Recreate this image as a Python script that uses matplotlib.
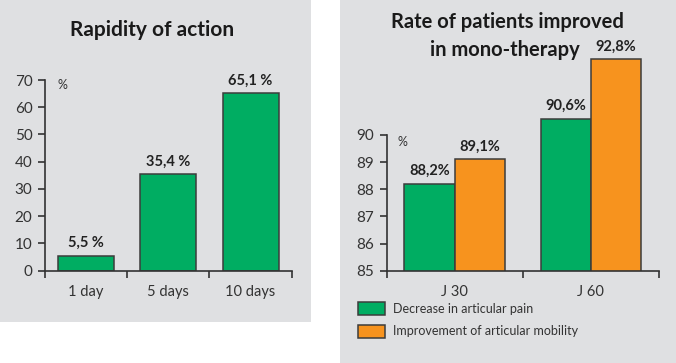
import matplotlib
matplotlib.use("Agg")
import matplotlib.pyplot as plt
from matplotlib.patches import Rectangle, Patch

# ---- data ----
left_categories = ["1 day", "5 days", "10 days"]
left_values = [5.5, 35.4, 65.1]
left_labels = ["5,5 %", "35,4 %", "65,1 %"]
left_yticks = [0, 10, 20, 30, 40, 50, 60, 70]

right_categories = ["J 30", "J 60"]
pain_values = [88.2, 90.6]
mobility_values = [89.1, 92.8]
pain_labels = ["88,2%", "90,6%"]
mobility_labels = ["89,1%", "92,8%"]
right_yticks = [85, 86, 87, 88, 89, 90]
series_names = ["Decrease in articular pain", "Improvement of articular mobility"]

GREEN = "#00ad62"
ORANGE = "#f7931e"
BG = "#dfe0e2"
DARK = "#333333"
EDGE = "#3c3c3c"
FONT = ["Lato", "DejaVu Sans"]
plt.rcParams['font.family'] = FONT

W, H = 676, 363
fig = plt.figure(figsize=(W / 100, H / 100), dpi=100)
fig.patch.set_facecolor("white")

def fx(px):
    return px / W

def fy(py):
    return 1 - py / H

# grey panels
fig.patches.append(Rectangle((0, fy(321.7)), fx(311), 321.7 / H, transform=fig.transFigure,
                             facecolor=BG, edgecolor="none", zorder=-10))
fig.patches.append(Rectangle((fx(340), 0), fx(676 - 340), 1, transform=fig.transFigure,
                             facecolor=BG, edgecolor="none", zorder=-10))

def style_axes(ax):
    ax.set_facecolor("none")
    ax.set_zorder(2)
    for s in ["top", "right"]:
        ax.spines[s].set_visible(False)
    for s in ["left", "bottom"]:
        ax.spines[s].set_color(DARK)
        ax.spines[s].set_linewidth(1.2)
    ax.tick_params(axis="y", which="major", length=5, width=1.2, color=DARK,
                   labelsize=11, labelcolor=DARK, pad=4)
    ax.tick_params(axis="x", which="major", length=5, width=1.2, color=DARK,
                   labelbottom=False)
    ax.tick_params(axis="x", which="minor", length=0, labelsize=10.5,
                   labelcolor=DARK, pad=10)

# ---- left chart ----
axL = fig.add_axes([fx(45), fy(270.7), fx(291.7 - 45), (270.7 - 80) / H])
xl = [i + 0.5 for i in range(len(left_categories))]
axL.bar(xl, left_values, width=0.68, color=GREEN, edgecolor=EDGE, linewidth=1.1, zorder=2)
axL.set_xlim(0, len(left_categories))
axL.set_ylim(0, 70)
axL.set_yticks(left_yticks)
axL.set_xticks(range(len(left_categories) + 1))
axL.set_xticks(xl, minor=True)
axL.set_xticklabels(left_categories, minor=True)
style_axes(axL)
for x, v, lab in zip(xl, left_values, left_labels):
    axL.annotate(lab, (x, v), xytext=(0, 4), textcoords="offset points",
                 ha="center", va="bottom", fontsize=10.5, fontweight="bold",
                 color="#222222", annotation_clip=False)
axL.text(0.05, 0.975, "%", transform=axL.transAxes, fontsize=9, color=DARK,
         ha="left", va="center")
fig.text(fx(152), fy(30), "Rapidity of action", ha="center", va="center",
         fontsize=15, fontweight="bold", color="#1a1a1a")

# ---- right chart ----
ppu = (270.7 - 135) / 5
top_val = 93.6
axR = fig.add_axes([fx(386.7), fy(270.7), fx(659 - 386.7), (top_val - 85) * ppu / H])
xr = [i + 0.5 for i in range(len(right_categories))]
bw = 0.37
axR.bar([x - bw / 2 for x in xr], pain_values, width=bw, bottom=0, color=GREEN,
        edgecolor=EDGE, linewidth=1.1, zorder=2)
axR.bar([x + bw / 2 for x in xr], mobility_values, width=bw, bottom=0, color=ORANGE,
        edgecolor=EDGE, linewidth=1.1, zorder=2)
axR.set_xlim(0, len(right_categories))
axR.set_ylim(85, top_val)
axR.spines["left"].set_bounds(85, 90)
axR.set_yticks(right_yticks)
axR.set_xticks(range(len(right_categories) + 1))
axR.set_xticks(xr, minor=True)
axR.set_xticklabels(right_categories, minor=True)
style_axes(axR)
for x, v, lab in zip(xr, pain_values, pain_labels):
    axR.annotate(lab, (x - bw / 2, v), xytext=(0, 4), textcoords="offset points",
                 ha="center", va="bottom", fontsize=10.5, fontweight="bold",
                 color="#222222", annotation_clip=False)
for x, v, lab in zip(xr, mobility_values, mobility_labels):
    axR.annotate(lab, (x + bw / 2, v), xytext=(0, 4), textcoords="offset points",
                 ha="center", va="bottom", fontsize=10.5, fontweight="bold",
                 color="#222222", annotation_clip=False)
fig.text(fx(398), fy(142), "%", fontsize=9, color=DARK, ha="left", va="center")
fig.text(fx(507), fy(22), "Rate of patients improved", ha="center", va="center",
         fontsize=14.5, fontweight="bold", color="#1a1a1a")
fig.text(fx(505), fy(50), "in mono-therapy", ha="center", va="center",
         fontsize=14.5, fontweight="bold", color="#1a1a1a")

handles = [Patch(facecolor=GREEN, edgecolor=EDGE, linewidth=1.1),
           Patch(facecolor=ORANGE, edgecolor=EDGE, linewidth=1.1)]
leg = fig.legend(handles, series_names, loc="upper left",
                 bbox_to_anchor=(fx(357.5), fy(302)), bbox_transform=fig.transFigure,
                 frameon=False, fontsize=9, handlelength=2.2, handleheight=1.25,
                 handletextpad=0.65, labelspacing=0.75, borderpad=0, borderaxespad=0)
for t in leg.get_texts():
    t.set_color(DARK)

fig.savefig("out.png", dpi=100, facecolor="white")
